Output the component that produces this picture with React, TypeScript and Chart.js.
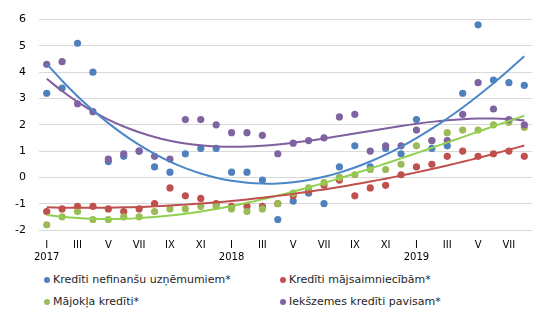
import React, { useEffect, useRef } from 'react';
import { Chart, registerables } from 'chart.js';

Chart.register(...registerables);

// Months Jan 2017 – Aug 2019
const categories = [
  'I', 'II', 'III', 'IV', 'V', 'VI', 'VII', 'VIII', 'IX', 'X', 'XI', 'XII',
  'I', 'II', 'III', 'IV', 'V', 'VI', 'VII', 'VIII', 'IX', 'X', 'XI', 'XII',
  'I', 'II', 'III', 'IV', 'V', 'VI', 'VII', 'VIII',
];
const years = ['2017', '2018', '2019'];

const nefinansu = [3.2, 3.4, 5.1, 4.0, 0.6, 0.8, 1.0, 0.4, 0.2, 0.9, 1.1, 1.1, 0.2, 0.2, -0.1, -1.6, -0.9, -0.6, -1.0, 0.4, 1.2, 0.4, 1.1, 0.9, 2.2, 1.1, 1.2, 3.2, 5.8, 3.7, 3.6, 3.5];
const majsaimniecibam = [-1.3, -1.2, -1.1, -1.1, -1.2, -1.3, -1.2, -1.0, -0.4, -0.7, -0.8, -1.0, -1.1, -1.1, -1.1, -1.0, -0.7, -0.5, -0.3, -0.1, -0.7, -0.4, -0.3, 0.1, 0.4, 0.5, 0.8, 1.0, 0.8, 0.9, 1.0, 0.8];
const majokla = [-1.8, -1.5, -1.3, -1.6, -1.6, -1.5, -1.5, -1.3, -1.2, -1.2, -1.1, -1.1, -1.2, -1.3, -1.2, -1.0, -0.6, -0.4, -0.2, 0.0, 0.1, 0.3, 0.3, 0.5, 1.2, 1.4, 1.7, 1.8, 1.8, 2.0, 2.1, 1.9];
const pavisam = [4.3, 4.4, 2.8, 2.5, 0.7, 0.9, 1.0, 0.8, 0.7, 2.2, 2.2, 2.0, 1.7, 1.7, 1.6, 0.9, 1.3, 1.4, 1.5, 2.3, 2.4, 1.0, 1.2, 1.2, 1.8, 1.4, 1.4, 2.4, 3.6, 2.6, 2.2, 2.0];

const seriesLabels = [
  'Kredīti nefinanšu uzņēmumiem*',
  'Kredīti mājsaimniecībām*',
  'Mājokļa kredīti*',
  'Iekšzemes kredīti pavisam*',
];

// Least-squares polynomial trend line (like Excel's polynomial trendline)
function polyTrend(ys: number[], deg: number): number[] {
  const n = ys.length;
  const c = (n - 1) / 2;
  const xs = ys.map((_, i) => (i - c) / c);
  const m = deg + 1;
  const A: number[][] = Array.from({ length: m }, () => new Array(m + 1).fill(0));
  for (let i = 0; i < n; i++) {
    for (let r = 0; r < m; r++) {
      for (let k = 0; k < m; k++) A[r][k] += Math.pow(xs[i], r + k);
      A[r][m] += ys[i] * Math.pow(xs[i], r);
    }
  }
  for (let col = 0; col < m; col++) {
    let piv = col;
    for (let r = col + 1; r < m; r++) if (Math.abs(A[r][col]) > Math.abs(A[piv][col])) piv = r;
    const tmp = A[col]; A[col] = A[piv]; A[piv] = tmp;
    for (let r = 0; r < m; r++) {
      if (r === col) continue;
      const f = A[r][col] / A[col][col];
      for (let k = col; k <= m; k++) A[r][k] -= f * A[col][k];
    }
  }
  const coef = A.map((row, i) => row[m] / row[i]);
  return xs.map((x) => coef.reduce((s, a, i) => s + a * Math.pow(x, i), 0));
}

const BLUE = '#4F81BD';
const RED = '#C0504D';
const GREEN = '#9BBB59';
const PURPLE = '#8064A2';

const legendItems = [
  { label: seriesLabels[0], color: BLUE, left: 44, top: 272 },
  { label: seriesLabels[1], color: RED, left: 280, top: 272 },
  { label: seriesLabels[2], color: GREEN, left: 44, top: 294 },
  { label: seriesLabels[3], color: PURPLE, left: 280, top: 294 },
];

export default function App() {
  const ref = useRef<HTMLCanvasElement>(null);

  useEffect(() => {
    document.body.style.margin = '0';
    const pts = (label: string, data: number[], color: string, order: number) => ({
      label,
      data,
      showLine: false,
      pointRadius: 3.6,
      pointHoverRadius: 3.6,
      pointBorderWidth: 0,
      pointBackgroundColor: color,
      borderColor: color,
      backgroundColor: color,
      order,
    });
    const trend = (label: string, data: number[], deg: number, color: string) => ({
      label,
      data: polyTrend(data, deg),
      borderColor: color,
      borderWidth: 2,
      pointRadius: 0,
      fill: false,
      tension: 0.3,
      order: 0,
    });

    const chart = new Chart(ref.current!, {
      type: 'line',
      data: {
        labels: categories,
        datasets: [
          trend('t1', nefinansu, 3, '#4A86C8'),
          trend('t2', majsaimniecibam, 3, RED),
          trend('t3', majokla, 3, '#92D050'),
          trend('t4', pavisam, 3, '#7F5FA0'),
          pts(seriesLabels[3], pavisam, PURPLE, 1),
          pts(seriesLabels[2], majokla, GREEN, 2),
          pts(seriesLabels[1], majsaimniecibam, RED, 3),
          pts(seriesLabels[0], nefinansu, BLUE, 4),
        ] as any,
      },
      options: {
        animation: false,
        responsive: false,
        maintainAspectRatio: false,
        layout: { padding: { top: 19, right: 18, left: 0, bottom: 0 } },
        plugins: { legend: { display: false }, tooltip: { enabled: false } },
        scales: {
          x: {
            type: 'category',
            offset: true,
            grid: { display: false, drawTicks: false },
            border: { display: false },
            ticks: {
              autoSkip: false,
              maxRotation: 0,
              minRotation: 0,
              padding: 9,
              color: '#000',
              font: { family: '"DejaVu Sans", sans-serif', size: 10, lineHeight: 1.25 },
              callback: (_v: any, idx: number) => {
                if (idx % 2 !== 0) return '';
                if (idx % 12 === 0) return [categories[idx], years[idx / 12]];
                return categories[idx];
              },
            },
            afterFit: (s: any) => { s.height = 35; },
          },
          y: {
            min: -2,
            max: 6,
            ticks: {
              stepSize: 1,
              padding: 13,
              color: '#000',
              font: { family: '"DejaVu Sans", sans-serif', size: 11 },
            },
            grid: { color: '#D9D9D9', drawTicks: false, lineWidth: 1 },
            border: { display: false },
            afterFit: (s: any) => { s.width = 39; },
          },
        },
      } as any,
    });
    return () => chart.destroy();
  }, []);

  return (
    <div style={{ position: 'absolute', left: 0, top: 0, width: 550, height: 322, background: '#fff', fontFamily: '"DejaVu Sans", sans-serif' }}>
      <canvas ref={ref} width={550} height={265} style={{ position: 'absolute', left: 0, top: 0, width: 550, height: 265 }} />
      {legendItems.map((it) => (
        <div key={it.label} style={{ position: 'absolute', left: it.left, top: it.top, height: 16, display: 'flex', alignItems: 'center', whiteSpace: 'nowrap' }}>
          <span style={{ display: 'inline-block', width: 6, height: 6, borderRadius: 3, background: it.color, marginRight: 3 }} />
          <span style={{ fontSize: 11, color: '#262626', lineHeight: '16px' }}>{it.label}</span>
        </div>
      ))}
    </div>
  );
}
